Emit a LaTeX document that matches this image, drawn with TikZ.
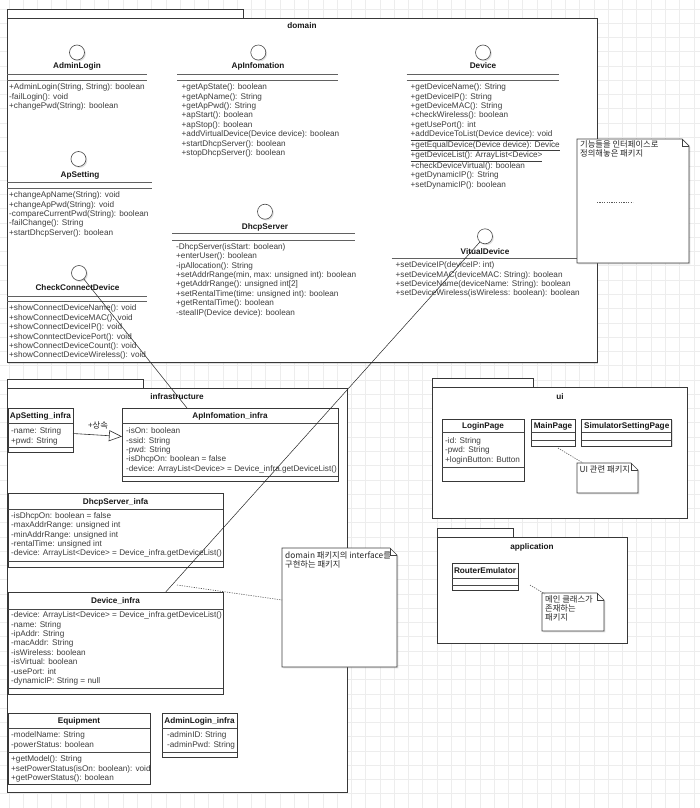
\documentclass[tikz,border=0pt]{standalone}
\usepackage{fontspec}
\setmainfont{Liberation Sans}
\newfontfamily\krfont{Noto Sans CJK KR}
\usetikzlibrary{arrows.meta,shadows}
\newcommand\mf{\fontsize{8.2}{9.4}\selectfont}
\newcommand\kf{\krfont\fontsize{8.3}{9}\selectfont}
\begin{document}
\begin{tikzpicture}[x=1pt,y=-1pt,
 shdw/.style={drop shadow={shadow xshift=1.3pt,shadow yshift=-1.3pt,opacity=0.2,fill=black!60}},
 box/.style={draw=black!78,fill=white,line width=0.75pt,inner sep=0pt,outer sep=0pt,anchor=north west,shdw},
 sep/.style={draw=black!72,line width=0.75pt},
 isep/.style={draw=black!62,line width=1pt},
 ifc/.style={circle,draw=black!70,fill=white,line width=0.6pt,minimum size=15pt,inner sep=0pt,shdw},
 ttl/.style={font=\mf\bfseries,inner sep=0pt,anchor=base,text=black!90},
 mtxt/.style={font=\mf,inner sep=0pt,anchor=north west,align=left,text=black!76},
 ktxt/.style={font=\kf,inner sep=0pt,anchor=north west,align=left,text=black!85},
 conn/.style={draw=black!85,line width=0.5pt},
 dotl/.style={draw=black!65,line width=0.6pt,dash pattern=on 1.2pt off 1.2pt},
 inh/.style={draw=black!80,line width=0.6pt,-{Triangle[open,length=13pt,width=11pt]}},
 gridl/.style={draw=black!7,line width=0.8pt},
 nbox/.style={inner sep=0pt,outer sep=0pt,anchor=north west},
 nshape/.style={draw=black!75,fill=white,line width=0.7pt,shdw},
 nfold/.style={draw=black!75,line width=0.7pt}
]
\useasboundingbox (0,0) rectangle (700,808);
\fill[white] (0,0) rectangle (700,808);
\foreach \i in {0,...,48} {\draw[gridl] ({9+14.27*\i},0) -- ({9+14.27*\i},808);}
\foreach \j in {0,...,55} {\draw[gridl] (0,{9+14.27*\j}) -- (700,{9+14.27*\j});}

% ================= domain package =================
\node[box,minimum width=236pt,minimum height=9pt] (domtab) at (7,9) {};
\node[box,minimum width=590pt,minimum height=344.5pt] (dom) at (7,18) {};
\node[ttl] (domlbl) at (302,29) {domain};

% AdminLogin
\node[ifc] (alC) at (77,52.5) {};
\node[ttl] (alT) at (77,69) {AdminLogin};
\draw[isep] (7,74.7) -- (147,74.7);
\draw[isep] (7,80) -- (147,80);
\node[mtxt] (alM) at (9,83.5) {+AdminLogin(String, String): boolean\\-failLogin(): void\\+changePwd(String): boolean};

% ApInfomation
\node[ifc] (aiC) at (258.3,52.5) {};
\node[ttl] (aiT) at (258,69) {ApInfomation};
\draw[isep] (177,74.7) -- (338,74.7);
\draw[isep] (177,80) -- (338,80);
\node[mtxt] (aiM) at (181.5,83.5) {+getApState(): boolean\\+getApName(): String\\+getApPwd(): String\\+apStart(): boolean\\+apStop(): boolean\\+addVirtualDevice(Device device): boolean\\+startDhcpServer(): boolean\\+stopDhcpServer(): boolean};

% Device
\node[ifc] (dvC) at (483,52.5) {};
\node[ttl] (dvT) at (483,69) {Device};
\draw[isep] (406.7,74.7) -- (559,74.7);
\draw[isep] (406.7,80) -- (559,80);
\node[mtxt] (dvM) at (410.5,83.5) {+getDeviceName(): String\\+getDeviceIP(): String\\+getDeviceMAC(): String\\+checkWireless(): boolean\\+getUsePort(): int\\\underline{+addDeviceToList(Device device): void}\\\underline{+getEqualDevice(Device device): Device}\\\underline{+getDeviceList(): ArrayList<Device>}\\+checkDeviceVirtual(): boolean\\+getDynamicIP(): String\\+setDynamicIP(): boolean};

% ApSetting
\node[ifc] (asC) at (78.5,159) {};
\node[ttl] (asT) at (80,177) {ApSetting};
\draw[isep] (7,182) -- (152,182);
\draw[isep] (7,188) -- (152,188);
\node[mtxt] (asM) at (9,191.5) {+changeApName(String): void\\+changeApPwd(String): void\\-compareCurrentPwd(String): boolean\\-failChange(): String\\+startDhcpServer(): boolean};

% DhcpServer
\node[ifc] (dsC) at (265,211.7) {};
\node[ttl] (dsT) at (265,229.7) {DhcpServer};
\draw[isep] (172,233.7) -- (355,233.7);
\draw[isep] (172,240) -- (355,240);
\node[mtxt] (dsM) at (176,243.2) {-DhcpServer(isStart: boolean)\\+enterUser(): boolean\\-ipAllocation(): String\\+setAddrRange(min, max: unsigned int): boolean\\+getAddrRange(): unsigned int[2]\\+setRentalTime(time: unsigned int): boolean\\+getRentalTime(): boolean\\-stealIP(Device device): boolean};

% CheckConnectDevice
\node[ifc] (ccC) at (79,273) {};
\node[ttl] (ccT) at (77.5,290) {CheckConnectDevice};
\draw[isep] (7,296) -- (147,296);
\draw[isep] (7,301.3) -- (147,301.3);
\node[mtxt] (ccM) at (9,304.8) {+showConnectDeviceName(): void\\+showConnectDeviceMAC(): void\\+showConnectDeviceIP(): void\\+showConntectDevicePort(): void\\+showConnectDeviceCount(): void\\+showConnectDeviceWireless(): void};

% VitualDevice
\node[ifc] (vdC) at (485,236.3) {};
\node[ttl] (vdT) at (485,254) {VitualDevice};
\draw[isep] (391.7,258.3) -- (577,258.3);
\node[mtxt] (vdM) at (395.5,261.5) {+setDeviceIP(deviceIP: int)\\+setDeviceMAC(deviceMAC: String): boolean\\+setDeviceName(deviceName: String): boolean\\+setDeviceWireless(isWireless: boolean): boolean};

% ================= infrastructure package =================
\node[box,minimum width=136pt,minimum height=9pt] (inftab) at (7,379) {};
\node[box,minimum width=340pt,minimum height=404pt] (inf) at (7,388) {};
\node[ttl] (inflbl) at (177,399) {infrastructure};

% ApSetting_infra
\node[box,minimum width=65pt,minimum height=44pt] (asi) at (8,408) {};
\node[ttl] (asiT) at (40.5,418.5) {ApSetting\_infra};
\draw[sep] (8,423) -- (73,423);
\node[mtxt] (asiA) at (11,427.5) {-name: String\\+pwd: String};
\draw[sep] (8,447) -- (73,447);

% ApInfomation_infra
\node[box,minimum width=216pt,minimum height=73pt] (api) at (122,408) {};
\node[ttl] (apiT) at (230,418.5) {ApInfomation\_infra};
\draw[sep] (122,423) -- (338,423);
\node[mtxt] (apiA) at (126,427.5) {-isOn: boolean\\-ssid: String\\-pwd: String\\-isDhcpOn: boolean = false\\-device: ArrayList<Device> = Device\_infra.getDeviceList()};
\draw[sep] (122,476) -- (338,476);

% DhcpServer_infa
\node[box,minimum width=215pt,minimum height=74pt] (dsi) at (8,493) {};
\node[ttl] (dsiT) at (115.5,504) {DhcpServer\_infa};
\draw[sep] (8,509) -- (223,509);
\node[mtxt] (dsiA) at (11,512.2) {-isDhcpOn: boolean = false\\-maxAddrRange: unsigned int\\-minAddrRange: unsigned int\\-rentalTime: unsigned int\\-device: ArrayList<Device> = Device\_infra.getDeviceList()};
\draw[sep] (8,561) -- (223,561);

% Device_infra
\node[box,minimum width=215pt,minimum height=102pt] (dvi) at (8,592) {};
\node[ttl] (dviT) at (115.5,603.5) {Device\_infra};
\draw[sep] (8,609) -- (223,609);
\node[mtxt] (dviA) at (11,611.5) {-device: ArrayList<Device> = Device\_infra.getDeviceList()\\-name: String\\-ipAddr: String\\-macAddr: String\\-isWireless: boolean\\-isVirtual: boolean\\-usePort: int\\-dynamicIP: String = null};
\draw[sep] (8,688) -- (223,688);

% Equipment
\node[box,minimum width=142pt,minimum height=71pt] (eq) at (8,713) {};
\node[ttl] (eqT) at (79,723.5) {Equipment};
\draw[sep] (8,728) -- (150,728);
\node[mtxt] (eqA) at (11,731.5) {-modelName: String\\-powerStatus: boolean};
\draw[sep] (8,752.7) -- (150,752.7);
\node[mtxt] (eqM) at (11,755.5) {+getModel(): String\\+setPowerStatus(isOn: boolean): void\\+getPowerStatus(): boolean};

% AdminLogin_infra
\node[box,minimum width=75pt,minimum height=44pt] (ali) at (162,713) {};
\node[ttl] (aliT) at (199.5,723.5) {AdminLogin\_infra};
\draw[sep] (162,728) -- (237,728);
\node[mtxt] (aliA) at (167,731.5) {-adminID: String\\-adminPwd: String};
\draw[sep] (162,752) -- (237,752);

% ================= ui package =================
\node[box,minimum width=101pt,minimum height=9pt] (uitab) at (432,378) {};
\node[box,minimum width=255pt,minimum height=131pt] (ui) at (432,387) {};
\node[ttl] (uilbl) at (560,399) {ui};

\node[box,minimum width=82pt,minimum height=62pt] (lp) at (442,419) {};
\node[ttl] (lpT) at (483,428.5) {LoginPage};
\draw[sep] (442,432) -- (524,432);
\node[mtxt] (lpA) at (445,437.2) {-id: String\\-pwd: String\\+loginButton: Button};
\draw[sep] (442,467.7) -- (524,467.7);

\node[box,minimum width=44pt,minimum height=27pt] (mp) at (531,419) {};
\node[ttl] (mpT) at (553,428.5) {MainPage};
\draw[sep] (531,432) -- (575,432);
\draw[sep] (531,440.7) -- (575,440.7);

\node[box,minimum width=90pt,minimum height=27pt] (ssp) at (581.7,419) {};
\node[ttl] (sspT) at (626.7,428.5) {SimulatorSettingPage};
\draw[sep] (581.7,432) -- (671.7,432);
\draw[sep] (581.7,440.7) -- (671.7,440.7);

% ================= application package =================
\node[box,minimum width=76pt,minimum height=9pt] (apptab) at (437,528) {};
\node[box,minimum width=190pt,minimum height=106pt] (app) at (437,537) {};
\node[ttl] (applbl) at (532,549) {application};

\node[box,minimum width=66pt,minimum height=27pt] (re) at (452,563) {};
\node[ttl] (reT) at (485,573.5) {RouterEmulator};
\draw[sep] (452,578) -- (518,578);
\draw[sep] (452,585) -- (518,585);

% ================= connectors =================
\coordinate (apiTop) at (187,408);
\coordinate (dviTop) at (165.7,592);
\draw[conn] (ccC) -- (apiTop);
\draw[conn] (vdC) -- (dviTop);
\draw[inh] ([yshift=-3.5pt]asi.east) -- ([yshift=8pt]api.west);
\node[font=\kf,inner sep=0pt,text=black!85] (inhL) at (98,425) {+상속};

% ================= notes =================
% domain note
\node[nbox,minimum width=112pt,minimum height=124pt] (dn) at (577,139) {};
\path[nshape] (dn.north west) -- ([xshift=-7pt]dn.north east) -- ([yshift=-7pt]dn.north east) -- (dn.south east) -- (dn.south west) -- cycle;
\draw[nfold] ([xshift=-7pt]dn.north east) -- ([xshift=-7pt,yshift=-7pt]dn.north east) -- ([yshift=-7pt]dn.north east);
\node[ktxt] (dnT) at (580,140.8) {기능들을 인터페이스로\\정의해놓은 패키지};
\draw[dotl] ([xshift=20pt,yshift=-1pt]dn.west) -- ([xshift=56pt,yshift=-1pt]dn.west);

% infrastructure note
\node[nbox,minimum width=115pt,minimum height=119pt] (inn) at (282,548) {};
\path[nshape] (inn.north west) -- ([xshift=-7pt]inn.north east) -- ([yshift=-7pt]inn.north east) -- (inn.south east) -- (inn.south west) -- cycle;
\draw[nfold] ([xshift=-7pt]inn.north east) -- ([xshift=-7pt,yshift=-7pt]inn.north east) -- ([yshift=-7pt]inn.north east);
\node[ktxt] (innT) at (285,551.6) {domain 패키지의 interface를\\구현하는 패키지};
\draw[dotl] ([xshift=61.5pt,yshift=7pt]dvi.north) -- ([yshift=7.5pt]inn.west);

% ui note
\node[nbox,minimum width=61pt,minimum height=30pt] (uin) at (577,463) {};
\path[nshape] (uin.north west) -- ([xshift=-7pt]uin.north east) -- ([yshift=-7pt]uin.north east) -- (uin.south east) -- (uin.south west) -- cycle;
\draw[nfold] ([xshift=-7pt]uin.north east) -- ([xshift=-7pt,yshift=-7pt]uin.north east) -- ([yshift=-7pt]uin.north east);
\node[ktxt] (uinT) at (579.5,465.8) {UI 관련 패키지};
\draw[dotl] ([xshift=5pt,yshift=-2pt]mp.south) -- ([xshift=6pt]uin.north west);

% application note
\node[nbox,minimum width=62pt,minimum height=38pt] (apn) at (542,593) {};
\path[nshape] (apn.north west) -- ([xshift=-7pt]apn.north east) -- ([yshift=-7pt]apn.north east) -- (apn.south east) -- (apn.south west) -- cycle;
\draw[nfold] ([xshift=-7pt]apn.north east) -- ([xshift=-7pt,yshift=-7pt]apn.north east) -- ([yshift=-7pt]apn.north east);
\node[ktxt] (apnT) at (545,595.8) {메인 클래스가\\존재하는\\패키지};
\draw[dotl] ([xshift=12pt,yshift=5pt]re.south east) -- ([xshift=3pt,yshift=-1pt]apn.north west);
\end{tikzpicture}
\end{document}
